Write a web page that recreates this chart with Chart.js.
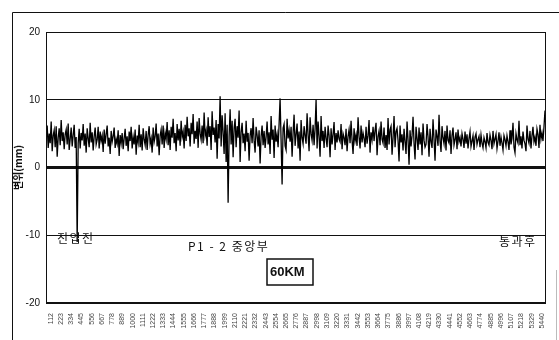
<!DOCTYPE html>
<html>
<head>
<meta charset="utf-8">
<script src="https://cdn.jsdelivr.net/npm/chart.js@4/dist/chart.umd.min.js"></script>
<style>
  html, body { margin: 0; padding: 0; background: #fff; }
  #wrap { width: 559px; height: 340px; position: relative; }
</style>
</head>
<body>
<div id="wrap"><canvas id="dispChart"></canvas></div>
<script>
// displacement (mm), one value per ~11 samples
const disp = [
  4.1, 6.2, 2.9, 5.0, 3.6, 6.8, 2.4, 4.7, 5.5, 3.0, 6.1, 1.6, 4.4, 5.8, 3.3, 7.0, 3.9, 5.2, 2.7, 4.9,
  5.6, 3.4, 6.5, 2.6, 4.2, 5.9, 3.1, 4.8, 6.3, 2.9, 4.5, -11, 3.6, 5.7, 2.8, 5.1, 4.0, 6.4, 3.2, 5.0,
  2.2, 5.8, 4.3, 3.0, 6.6, 3.7, 5.2, 2.5, 4.6, 5.9, 3.4, 4.1, 6.0, 2.8, 5.3, 3.9, 4.7, 2.3, 5.6, 3.5,
  4.9, 6.2, 3.1, 4.4, 2.0, 5.4, 3.8, 4.6, 5.9, 2.9, 4.2, 3.5, 5.5, 1.7, 4.8, 3.6, 5.1, 2.7, 4.3, 5.7,
  3.2, 4.6, 2.4, 5.3, 3.9, 6.0, 2.8, 4.5, 3.4, 5.6, 1.9, 4.7, 3.7, 6.3, 3.0, 4.9, 2.5, 5.8, 4.1, 3.3,
  5.4, 2.6, 4.8, 6.1, 3.5, 4.3, 2.2, 5.9, 3.8, 4.6, 6.5, 3.1, 5.0, 1.8, 4.7, 5.6, 3.4, 6.2, 2.9, 5.1,
  4.2, 6.7, 3.3, 5.5, 2.6, 6.0, 4.4, 7.2, 3.6, 5.1, 2.4, 6.4, 4.0, 5.7, 3.2, 6.9, 4.5, 5.3, 2.8, 6.3,
  3.9, 7.5, 4.6, 5.8, 3.1, 6.6, 4.9, 7.9, 3.5, 5.4, 4.2, 6.8, 2.9, 7.3, 5.0, 4.1, 6.2, 3.6, 8.1, 4.7,
  5.5, 3.2, 7.4, 4.5, 6.1, 2.6, 8.3, 4.8, 5.9, 3.7, 7.0, 1.3, 6.4, 4.3, 10.5, 3.1, 7.7, 5.2, 2.0, 8.0,
  0.8, 6.3, -5.2, 4.6, 8.6, 3.4, 6.9, 1.5, 5.8, 7.2, 3.0, 6.1, 4.4, 8.4, 0.8, 5.2, 6.6, 3.6, 5.0, 2.4,
  6.9, 3.8, 5.1, 1.0, 4.7, 5.8, 3.6, 7.3, 4.0, 2.2, 6.0, 4.8, 3.1, 5.5, 0.6, 4.6, 6.2, 3.3, 5.4, 2.9,
  4.5, 6.8, 3.4, 5.2, 2.0, 7.6, 4.1, 5.6, 1.4, 6.2, 3.8, 4.9, 3.0, 6.4, 10.2, 4.0, -2.5, 5.8, 6.4, 3.2,
  2.6, 7.2, 4.3, 5.5, 3.8, 6.0, 1.6, 5.1, 7.8, 3.2, 4.9, 6.5, 2.8, 5.3, 1.0, 7.0, 4.4, 3.5, 6.1, 4.7,
  3.5, 8.0, 4.8, 2.4, 7.4, 5.0, 4.0, 6.3, 3.3, 5.7, 10.0, 2.8, 6.8, 4.6, 1.6, 7.6, 3.9, 5.4, 2.9, 6.0,
  4.3, 3.0, 6.2, 4.7, 1.5, 5.8, 3.4, 4.9, 6.7, 2.6, 5.1, 3.7, 5.5, 4.2, 3.8, 6.4, 2.7, 5.0, 4.4, 3.3,
  5.7, 2.4, 4.6, 5.6, 3.6, 6.9, 4.0, 2.0, 5.8, 3.9, 4.8, 3.2, 7.4, 4.5, 2.8, 6.2, 3.7, 5.1, 4.3, 3.0,
  6.0, 3.5, 4.7, 7.0, 2.2, 5.2, 4.1, 6.0, 3.9, 5.5, 6.6, 1.8, 4.6, 5.4, 3.3, 6.8, 4.2, 3.6, 5.9, 2.9,
  4.8, 2.6, 7.3, 3.4, 5.6, 6.1, 1.9, 4.4, 7.6, 3.0, 5.3, 5.8, 4.0, 0.9, 6.2, 3.7, 4.9, 2.5, 5.7, 3.8,
  2.0, 6.8, 4.1, 0.4, 5.5, 3.1, 4.7, 7.5, 3.6, 1.2, 6.0, 4.3, 2.6, 5.9, 3.4, 5.2, 1.8, 6.5, 4.0, 3.0,
  3.4, 6.4, 4.5, 1.6, 5.7, 3.8, 2.9, 7.1, 4.2, 1.0, 5.6, 4.6, 3.2, 7.8, 3.9, 2.3, 6.1, 4.4, 3.5, 5.4,
  2.5, 6.2, 4.0, 3.6, 5.5, 2.0, 4.7, 5.9, 3.3, 4.1, 5.2, 2.7, 5.6, 3.8, 4.4, 3.1, 5.0, 4.2, 2.9, 5.3,
  3.5, 4.9, 2.8, 4.3, 5.3, 3.1, 3.9, 4.7, 2.6, 4.5, 5.0, 3.4, 4.1, 4.6, 3.0, 4.8, 3.6, 2.9, 4.4, 3.8,
  2.9, 5.1, 3.7, 3.3, 4.8, 4.0, 2.7, 5.4, 3.5, 4.2, 4.9, 2.8, 3.9, 5.2, 3.2, 4.5, 3.6, 2.6, 4.7, 4.1,
  3.2, 4.7, 3.8, 2.6, 5.5, 3.4, 4.3, 6.6, 3.0, 2.2, 5.0, 4.1, 3.6, 6.9, 3.3, 4.6, 2.8, 5.3, 4.0, 3.5,
  2.4, 6.2, 4.2, 3.6, 5.4, 2.8, 4.7, 6.0, 3.8, 4.5, 3.2, 5.7, 4.9, 2.9, 6.3, 4.2, 5.1, 3.9, 6.0, 8.4
];

// sample numbers covered by the readings
const sampleFirst = 62;
const sampleLast = 5474;

// tick labels printed under the axis
const xTickLabels = [
  112, 223, 334, 445, 556, 667, 778, 889, 1000, 1111, 1222, 1333, 1444,
  1555, 1666, 1777, 1888, 1999, 2110, 2221, 2332, 2443, 2554, 2665, 2776,
  2887, 2998, 3109, 3220, 3331, 3442, 3553, 3664, 3775, 3886, 3997, 4108,
  4219, 4330, 4441, 4552, 4663, 4774, 4885, 4996, 5107, 5218, 5329, 5440
];
const yTickLabels = [-20, -10, 0, 10, 20];

const notes = [
  { text: '진입전', x: 57, y: 238 },
  { text: 'P1 - 2 중앙부', x: 188, y: 246 },
  { text: '통과후', x: 499, y: 241 }
];
const speedLabel = '60KM';

const points = disp.map((v, i) => ({
  x: sampleFirst + i * (sampleLast - sampleFirst) / (disp.length - 1),
  y: v
}));

const frame = {
  id: 'frame',
  beforeDraw(chart) {
    const ctx = chart.ctx;
    ctx.save();
    ctx.fillStyle = '#fff';
    ctx.fillRect(0, 0, chart.width, chart.height);
    // outer border of the figure
    ctx.strokeStyle = '#111';
    ctx.lineWidth = 1;
    ctx.beginPath();
    ctx.moveTo(12.5, 340);
    ctx.lineTo(12.5, 12.5);
    ctx.lineTo(559, 12.5);
    ctx.stroke();
    ctx.strokeStyle = '#bbb';
    ctx.beginPath();
    ctx.moveTo(556.5, 270);
    ctx.lineTo(556.5, 340);
    ctx.stroke();
    ctx.restore();
  },
  afterDraw(chart) {
    const ctx = chart.ctx;
    const a = chart.chartArea;
    ctx.save();
    ctx.strokeStyle = '#111';
    ctx.lineWidth = 1;
    ctx.strokeRect(a.left + 0.5, a.top + 0.5, a.right - a.left - 1, a.bottom - a.top - 1);

    ctx.fillStyle = '#111';
    ctx.font = '12px "Noto Sans CJK KR", "Liberation Sans", sans-serif';
    ctx.textBaseline = 'middle';
    ctx.letterSpacing = '1.5px';
    notes.forEach(n => ctx.fillText(n.text, n.x, n.y));
    ctx.letterSpacing = '0px';

    ctx.font = 'bold 13px "Liberation Sans", Arial, sans-serif';
    ctx.fillText(speedLabel, 270, 272);
    ctx.lineWidth = 1.5;
    ctx.strokeRect(267, 259, 46, 26);
    ctx.restore();
  }
};

new Chart(document.getElementById('dispChart'), {
  type: 'line',
  data: {
    datasets: [{
      data: points,
      borderColor: '#000',
      borderWidth: 1.3,
      pointRadius: 0,
      tension: 0
    }]
  },
  options: {
    responsive: true,
    maintainAspectRatio: false,
    animation: false,
    layout: { padding: { top: 32, right: 13, bottom: 8, left: 12 } },
    plugins: {
      legend: { display: false },
      tooltip: { enabled: false }
    },
    scales: {
      x: {
        type: 'linear',
        min: 60,
        max: 5485,
        afterBuildTicks: scale => {
          scale.ticks = xTickLabels.map(v => ({ value: v }));
        },
        afterFit: scale => { scale.height = 29; },
        grid: { display: false },
        border: { display: false },
        ticks: {
          autoSkip: false,
          maxRotation: 90,
          minRotation: 90,
          padding: 2,
          color: '#444',
          font: { family: '"Liberation Sans", Arial, sans-serif', size: 7 },
          callback: v => String(v)
        }
      },
      y: {
        min: -20,
        max: 20,
        afterBuildTicks: scale => {
          scale.ticks = yTickLabels.map(v => ({ value: v }));
        },
        afterFit: scale => { scale.width = 34; },
        border: { display: false },
        grid: {
          drawTicks: false,
          color: '#111',
          lineWidth: c => c.tick.value === 0 ? 3 : 1
        },
        ticks: {
          padding: 6,
          color: '#111',
          font: { family: '"Liberation Sans", Arial, sans-serif', size: 10 }
        },
        title: {
          display: true,
          text: '변위(mm)',
          color: '#111',
          padding: { top: 0, bottom: 2 },
          font: { family: '"Noto Sans CJK KR", sans-serif', size: 10, weight: 'bold' }
        }
      }
    }
  },
  plugins: [frame]
});
</script>
</body>
</html>
